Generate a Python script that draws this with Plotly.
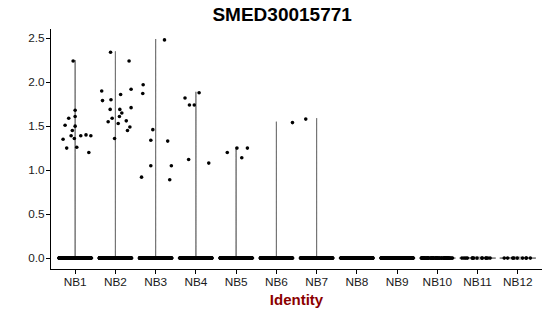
import plotly.graph_objects as go

# ---- data ----
groups = ["NB1", "NB2", "NB3", "NB4", "NB5", "NB6",
          "NB7", "NB8", "NB9", "NB10", "NB11", "NB12"]

# number of cells with zero expression per identity (estimated)
zero_counts = [400, 380, 350, 330, 300, 280, 260, 250, 130, 70, 14, 9]

# non-zero expression values per identity
nb1 = [2.24, 1.35, 1.51, 1.59, 1.68, 1.61, 1.50, 1.45, 1.39, 1.36, 1.25, 1.26, 1.39, 1.40, 1.39, 1.20]
nb2 = [2.34, 1.90, 1.79, 1.80, 1.69, 1.86, 2.24, 1.92, 1.71, 1.69, 1.65, 1.61, 1.59, 1.55, 1.53, 1.56, 1.49, 1.45, 1.36]
nb3 = [2.48, 1.97, 1.87, 1.46, 1.34, 1.05, 0.92, 1.33, 1.05, 0.89]
nb4 = [1.82, 1.74, 1.74, 1.88, 1.12, 1.08]
nb5 = [1.20, 1.25, 1.14, 1.25]
nb6 = [1.54]
nb7 = [1.58]
nonzero = [nb1, nb2, nb3, nb4, nb5, nb6, nb7, [], [], [], [], []]

# horizontal jitter of the non-zero points (category units)
jit1 = [-0.05, -0.30, -0.25, -0.16, 0.00, 0.00, 0.00, -0.07, -0.10, -0.02, -0.21, 0.04, 0.14, 0.27, 0.39, 0.34]
jit2 = [-0.12, -0.34, -0.32, -0.11, -0.13, 0.13, 0.34, 0.39, 0.39, 0.11, 0.16, 0.10, -0.08, -0.18, 0.07, 0.27, 0.36, 0.30, -0.02]
jit3 = [0.22, -0.31, -0.32, -0.07, -0.12, -0.12, -0.35, 0.30, 0.39, 0.35]
jit4 = [-0.27, -0.16, -0.04, 0.08, -0.18, 0.32]
jit5 = [-0.22, 0.02, 0.14, 0.28]
jit6 = [0.40]
jit7 = [-0.27]
jitters = [jit1, jit2, jit3, jit4, jit5, jit6, jit7, [], [], [], [], []]

y_ticks = [0.0, 0.5, 1.0, 1.5, 2.0, 2.5]

# ---- figure ----
fig = go.Figure()
positions = list(range(1, len(groups) + 1))

# violins (very narrow kernel -> hairline shapes like Seurat's VlnPlot)
for pos, zc, vals in zip(positions, zero_counts, nonzero):
    yv = [0.0] * zc + vals
    fig.add_trace(go.Violin(
        x=[pos] * len(yv), y=yv,
        bandwidth=0.005, scalemode="width", width=0.9, spanmode="soft",
        points=False, fillcolor="rgba(0,0,0,0)",
        line=dict(color="#555555", width=0.8),
        showlegend=False, hoverinfo="skip",
    ))

# zero-valued cells, jittered horizontally by plotly
for pos, zc in zip(positions, zero_counts):
    fig.add_trace(go.Box(
        x=[pos] * zc, y=[0.0] * zc,
        boxpoints="all", jitter=1.0, pointpos=0, width=0.8,
        fillcolor="rgba(0,0,0,0)", line=dict(width=0, color="rgba(0,0,0,0)"),
        marker=dict(color="black", size=3.6),
        showlegend=False, hoverinfo="skip",
    ))

# non-zero cells
px, py = [], []
for pos, vals, jit in zip(positions, nonzero, jitters):
    px += [pos + j for j in jit]
    py += vals
fig.add_trace(go.Scatter(
    x=px, y=py, mode="markers",
    marker=dict(color="black", size=3.6),
    showlegend=False, hoverinfo="skip",
))

axis_font = dict(family="Liberation Sans, Arial, sans-serif", size=11.8, color="#1a1a1a")
fig.update_layout(
    width=550, height=316,
    margin=dict(l=51, r=8, t=29, b=47),
    paper_bgcolor="white", plot_bgcolor="white",
    violinmode="overlay", boxmode="overlay",
    title=dict(text="<b>SMED30015771</b>", x=0.513, xref="container", xanchor="center",
               y=0.955, yref="container", yanchor="middle",
               font=dict(family="Liberation Sans, Arial, sans-serif", size=19, color="black")),
    xaxis=dict(range=[0.4, 12.6], tickmode="array", tickvals=positions, ticktext=groups,
               showline=True, linecolor="black", linewidth=1, showgrid=False, zeroline=False,
               ticks="outside", ticklen=4, tickcolor="black", tickfont=axis_font,
               ticklabelstandoff=-2,
               title=dict(text="<b>Identity</b>", standoff=6,
                          font=dict(family="Liberation Sans, Arial, sans-serif", size=15, color="#8B0000"))),
    yaxis=dict(range=[-0.124, 2.604], tickmode="array", tickvals=y_ticks,
               ticktext=[f"{v:.1f}" for v in y_ticks],
               showline=True, linecolor="black", linewidth=1, showgrid=False, zeroline=False,
               ticks="outside", ticklen=4, tickcolor="black", tickfont=axis_font,
               ticklabelstandoff=-1),
)

fig.write_html("out.html")
